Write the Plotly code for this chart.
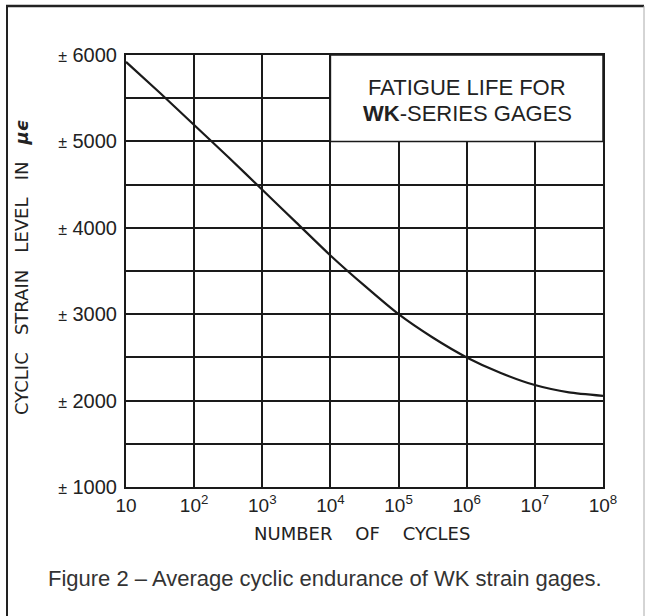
import plotly.graph_objects as go

# Data
cycles = [1e1, 10**1.5, 1e2, 10**2.5, 1e3, 10**3.5, 1e4, 10**4.5, 1e5, 10**5.5, 1e6, 10**6.5, 1e7, 10**7.5, 1e8]
strain = [5920, 5560, 5190, 4820, 4440, 4060, 3680, 3330, 3000, 2730, 2500, 2320, 2180, 2095, 2055]

y_tickvals = [1000, 2000, 3000, 4000, 5000, 6000]
y_ticktext = ["<span style='font-size:16px'>±</span> 1000",
              "<span style='font-size:16px'>±</span> 2000",
              "<span style='font-size:16px'>±</span> 3000",
              "<span style='font-size:16px'>±</span> 4000",
              "<span style='font-size:16px'>±</span> 5000",
              "<span style='font-size:16px'>±</span> 6000"]
x_tickvals = [1e1, 1e2, 1e3, 1e4, 1e5, 1e6, 1e7, 1e8]
x_ticktext = ["10", "10<sup>2</sup>", "10<sup>3</sup>", "10<sup>4</sup>",
              "10<sup>5</sup>", "10<sup>6</sup>", "10<sup>7</sup>", "10<sup>8</sup>"]

box_x = [1e4, 1e8]
box_y = [5000, 6000]
box_lines = ["FATIGUE LIFE FOR", "<b>WK</b>-SERIES GAGES"]

y_title = "CYCLIC   STRAIN   LEVEL   IN   <b><i>μϵ</i></b>"
x_title = "NUMBER    OF    CYCLES"
caption = "Figure 2 – Average cyclic endurance of WK strain gages."

W, H = 647, 616
L, R, T, B = 126, 44, 55, 129
pw, ph = W - L - R, H - T - B

def px(x):
    return (x - L) / pw

def py(y):
    return (H - B - y) / ph

fig = go.Figure()
fig.add_trace(go.Scatter(x=cycles, y=strain, mode="lines",
                         line=dict(color="#1a1a1a", width=2.2, shape="spline", smoothing=0.6),
                         hoverinfo="skip", showlegend=False))

tickfont = dict(family="Liberation Sans, Arial, sans-serif", size=19, color="#222")
ytickfont = dict(family="Liberation Sans, Arial, sans-serif", size=20, color="#222")
gridc = "#1a1a1a"

fig.update_layout(
    width=W, height=H,
    margin=dict(l=L, r=R, t=T, b=B, pad=0),
    paper_bgcolor="white", plot_bgcolor="white",
    xaxis=dict(type="log", range=[1, 8], tickmode="array", tickvals=x_tickvals, ticktext=x_ticktext,
               showgrid=True, gridcolor=gridc, gridwidth=1.5,
               showline=True, linecolor=gridc, linewidth=2, mirror=True,
               ticks="", tickfont=tickfont, zeroline=False, ticklabelstandoff=0),
    yaxis=dict(range=[1000, 6000], tickmode="array", tickvals=y_tickvals, ticktext=y_ticktext,
               showgrid=True, gridcolor=gridc, gridwidth=1.5,
               minor=dict(tickmode="linear", tick0=1000, dtick=500, showgrid=True,
                          gridcolor=gridc, gridwidth=1.5, ticks=""),
               showline=True, linecolor=gridc, linewidth=2, mirror=True,
               ticks="", tickfont=ytickfont, zeroline=False, ticklabelstandoff=3),
    font=dict(family="Liberation Sans, Arial, sans-serif", color="#222"),
)

# Box with title text
fig.add_shape(type="rect", xref="x", yref="y", x0=box_x[0], x1=box_x[1], y0=box_y[0], y1=box_y[1],
              fillcolor="white", line=dict(color=gridc, width=1.5), layer="above")

boxfont = dict(family="Liberation Sans, Arial, sans-serif", size=22, color="#222")
fig.add_annotation(text=box_lines[0], xref="paper", yref="paper", x=px(467), y=py(88),
                   showarrow=False, font=boxfont, xanchor="center", yanchor="middle")
fig.add_annotation(text=box_lines[1], xref="paper", yref="paper", x=px(467), y=py(113),
                   showarrow=False, font=boxfont, xanchor="center", yanchor="middle")

titlefont = dict(family="DejaVu Sans, sans-serif", size=18, color="#222")
fig.add_annotation(text=y_title, xref="paper", yref="paper", x=px(21), y=py(268), textangle=-90,
                   showarrow=False, font=titlefont, xanchor="center", yanchor="middle")
fig.add_annotation(text=x_title, xref="paper", yref="paper", x=px(362), y=py(533),
                   showarrow=False, font=titlefont, xanchor="center", yanchor="middle")
fig.add_annotation(text=caption, xref="paper", yref="paper", x=px(325), y=py(578),
                   showarrow=False, font=dict(family="Liberation Sans, Arial, sans-serif", size=22, color="#333"),
                   xanchor="center", yanchor="middle")

# Outer frame
fig.add_shape(type="line", xref="paper", yref="paper", x0=px(7), x1=px(7), y0=py(6), y1=py(640),
              line=dict(color="#222", width=2))
fig.add_shape(type="line", xref="paper", yref="paper", x0=px(6), x1=px(644), y0=py(6), y1=py(6),
              line=dict(color="#222", width=2.5))
fig.add_shape(type="line", xref="paper", yref="paper", x0=px(644), x1=px(644), y0=py(6), y1=py(640),
              line=dict(color="#aaa", width=1))

fig.write_html("out.html", config={"displayModeBar": False},
               post_script="document.body.style.margin='0';")
